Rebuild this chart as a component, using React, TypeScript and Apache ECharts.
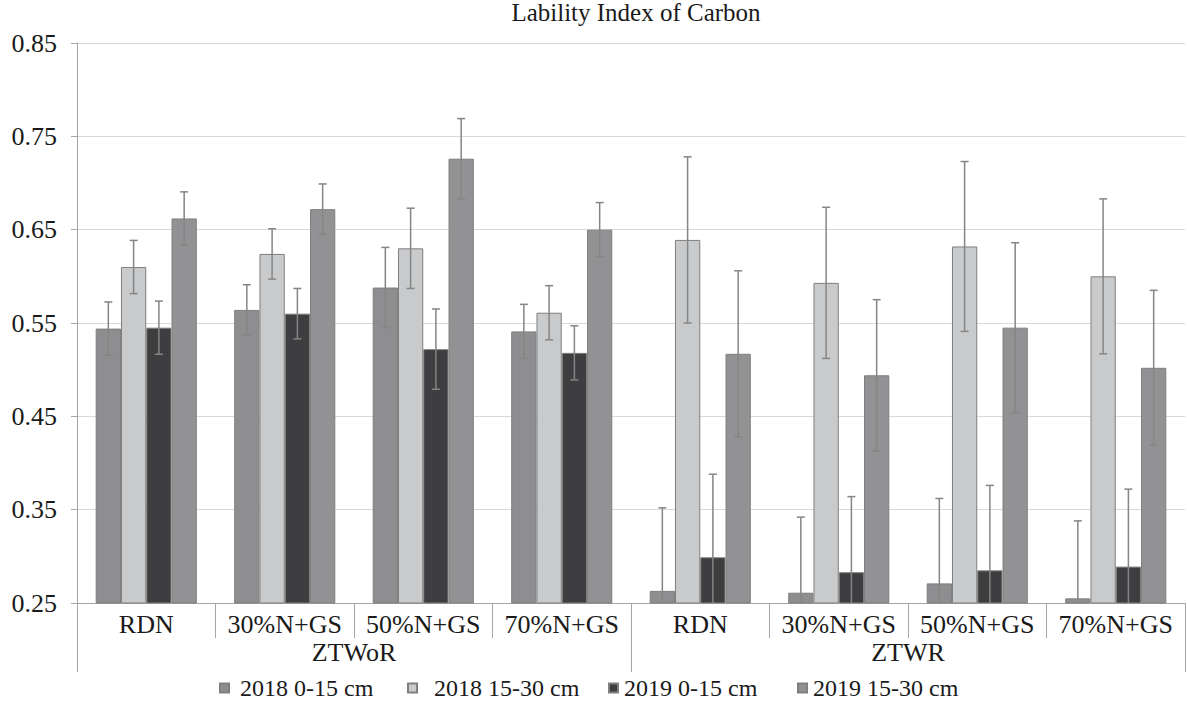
import React, { useEffect, useRef } from "react";
import * as echarts from "echarts";

const title = "Lability Index of Carbon";
const subCategories = ["RDN", "30%N+GS", "50%N+GS", "70%N+GS", "RDN", "30%N+GS", "50%N+GS", "70%N+GS"];
const groups = ["ZTWoR", "ZTWR"];
const seriesNames = ["2018 0-15 cm", "2018 15-30 cm", "2019 0-15 cm", "2019 15-30 cm"];

const s2018a = [0.544, 0.564, 0.588, 0.541, 0.263, 0.261, 0.271, 0.255];
const s2018b = [0.61, 0.624, 0.63, 0.561, 0.639, 0.593, 0.632, 0.6];
const s2019a = [0.545, 0.56, 0.522, 0.518, 0.299, 0.283, 0.285, 0.289];
const s2019b = [0.662, 0.672, 0.726, 0.65, 0.517, 0.494, 0.545, 0.502];

const e2018a = [0.0285, 0.027, 0.043, 0.029, 0.089, 0.081, 0.091, 0.083];
const e2018b = [0.0285, 0.027, 0.043, 0.029, 0.089, 0.081, 0.091, 0.083];
const e2019a = [0.0285, 0.027, 0.043, 0.029, 0.089, 0.081, 0.091, 0.083];
const e2019b = [0.0285, 0.027, 0.043, 0.029, 0.089, 0.081, 0.091, 0.083];

const yTicks = [0.25, 0.35, 0.45, 0.55, 0.65, 0.75, 0.85];

const values = [s2018a, s2018b, s2019a, s2019b];
const errors = [e2018a, e2018b, e2019a, e2019b];
const colors = ["#8e8e90", "#c9cacc", "#3e3e40", "#929294"];

const FONT = "'Liberation Serif', 'Times New Roman', serif";
const CAT_GAP = 0.27;

const legendLeft = [219, 407, 608, 797];
const legendPad = [6, 12, 1, 1];

export default function App() {
  const ref = useRef<HTMLDivElement>(null);
  useEffect(() => {
    if (!ref.current) return;
    const chart = echarts.init(ref.current, undefined, { renderer: "svg" });

    const barSeries = values.map((vals, i) => ({
      name: seriesNames[i],
      type: "bar",
      xAxisIndex: 0,
      data: vals,
      barGap: "0%",
      barCategoryGap: CAT_GAP * 100 + "%",
      itemStyle: { color: colors[i], borderColor: "#7f7f7f", borderWidth: 1 },
      z: 2,
    }));

    const errSeries = values.map((vals, i) => ({
      name: seriesNames[i] + " err",
      type: "custom",
      xAxisIndex: 0,
      clip: true,
      z: 5,
      data: vals.map((v, k) => [k, v, errors[i][k]]),
      renderItem: (params: any, api: any) => {
        const cat = api.value(0);
        const v = api.value(1);
        const e = api.value(2);
        const top = api.coord([cat, v + e]);
        const bot = api.coord([cat, v - e]);
        const bandW = api.size([1, 0])[0];
        const barW = (bandW * (1 - CAT_GAP)) / 4;
        const x = top[0] + (i - 1.5) * barW;
        const cap = 4;
        const style = { stroke: "#858585", lineWidth: 1.5 };
        return {
          type: "group",
          children: [
            { type: "line", shape: { x1: x, y1: top[1], x2: x, y2: bot[1] }, style },
            { type: "line", shape: { x1: x - cap, y1: top[1], x2: x + cap, y2: top[1] }, style },
            { type: "line", shape: { x1: x - cap, y1: bot[1], x2: x + cap, y2: bot[1] }, style },
          ],
        };
      },
    }));

    chart.setOption({
      animation: false,
      textStyle: { fontFamily: FONT },
      title: {
        text: title,
        left: 631,
        top: -5,
        textAlign: "center",
        textStyle: { fontFamily: FONT, fontSize: 25, fontWeight: "normal", color: "#1a1a1a" },
      },
      legend: seriesNames.map((n, i) => ({
        data: [n],
        left: legendLeft[i],
        top: 676,
        padding: 0,
        itemWidth: 9,
        itemHeight: 9,
        icon: "rect",
        selectedMode: false,
        textStyle: { fontFamily: FONT, fontSize: 24, color: "#1a1a1a", padding: [0, 0, 0, legendPad[i]] },
      })),
      grid: { left: 77, right: 2, top: 43, bottom: 103, containLabel: false },
      xAxis: [
        {
          type: "category",
          data: subCategories,
          position: "bottom",
          axisLine: { show: true, lineStyle: { color: "#a6a6a6", width: 1 } },
          axisTick: { show: true, interval: 0, length: 35, lineStyle: { color: "#a6a6a6" } },
          axisLabel: { interval: 0, margin: 8, fontSize: 26, color: "#1a1a1a", fontFamily: FONT },
          splitLine: { show: false },
        },
        {
          type: "category",
          data: groups,
          position: "bottom",
          axisLine: { show: false },
          axisTick: { show: true, interval: 0, length: 69, lineStyle: { color: "#a6a6a6" } },
          axisLabel: { interval: 0, margin: 36, fontSize: 26, color: "#1a1a1a", fontFamily: FONT },
          splitLine: { show: false },
        },
      ],
      yAxis: {
        type: "value",
        min: yTicks[0],
        max: yTicks[yTicks.length - 1],
        interval: 0.1,
        axisLine: { show: true, lineStyle: { color: "#a6a6a6" } },
        axisTick: { show: true, length: 6, lineStyle: { color: "#a6a6a6" } },
        axisLabel: {
          margin: 20,
          fontSize: 26,
          color: "#1a1a1a",
          fontFamily: FONT,
          formatter: (v: number) => v.toFixed(2),
        },
        splitLine: { show: true, lineStyle: { color: "#d9d9d9", width: 1 } },
      },
      series: [...barSeries, ...errSeries],
    });

    return () => chart.dispose();
  }, []);

  return <div ref={ref} style={{ width: 1187, height: 706, position: "absolute", left: 0, top: 0 }} />;
}
